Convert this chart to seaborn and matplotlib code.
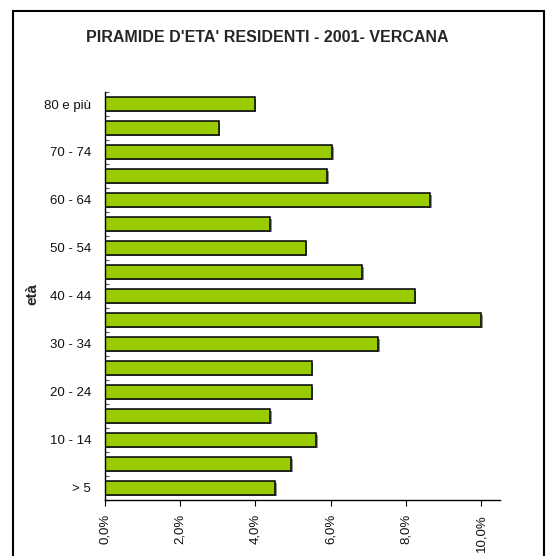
import matplotlib
matplotlib.use("Agg")
import matplotlib.pyplot as plt
import matplotlib.patheffects as pe
from matplotlib.patches import Rectangle
from matplotlib.ticker import FuncFormatter, FixedLocator
import seaborn as sns
import pandas as pd
import numpy as np

categories = ["80 e più", "75 - 79", "70 - 74", "65 - 69", "60 - 64", "55 - 59",
              "50 - 54", "45 - 49", "40 - 44", "35 - 39", "30 - 34", "25 - 29",
              "20 - 24", "15 - 19", "10 - 14", "5 - 9", "> 5"]
values = [3.98, 3.02, 6.04, 5.90, 8.64, 4.39, 5.33, 6.84, 8.23, 10.0, 7.26,
          5.49, 5.49, 4.39, 5.62, 4.94, 4.53]
shown_labels = ["80 e più", "70 - 74", "60 - 64", "50 - 54", "40 - 44",
                "30 - 34", "20 - 24", "10 - 14", "> 5"]
x_ticks = [0, 2, 4, 6, 8, 10]

title = "PIRAMIDE D'ETA' RESIDENTI - 2001- VERCANA"

sns.set_theme(style="white")
plt.rcParams['font.family'] = ['Liberation Sans', 'DejaVu Sans']

W, H = 546, 556
fig = plt.figure(figsize=(W / 100, H / 100), dpi=100)
ax = fig.add_axes([105 / W, 1 - 500 / H, (500 - 105) / W, (500 - 92) / H])

df = pd.DataFrame({"eta": categories, "perc": values})
sns.barplot(data=df, y="eta", x="perc", orient="h", color="#99CC00",
            saturation=1, width=0.55, edgecolor="black", linewidth=1.1, ax=ax)
for p in ax.patches:
    p.set_path_effects([pe.SimplePatchShadow(offset=(1.2, -1.2), shadow_rgbFace="#777777", alpha=0.8),
                        pe.Normal()])

ax.set_xlim(0, 10.5)
ax.set_ylim(len(categories) - 0.5, -0.5)

ax.xaxis.set_major_locator(FixedLocator(x_ticks))
ax.xaxis.set_major_formatter(FuncFormatter(lambda v, p: f"{v:.1f}%".replace(".", ",")))
for lab in ax.get_xticklabels():
    lab.set_rotation(90)
ax.tick_params(axis="x", which="major", bottom=True, length=4, width=0.8, color="black",
               labelsize=9.5, pad=6, labelcolor="#111111")

ax.set_yticks(range(len(categories)))
ax.set_yticklabels([c if c in shown_labels else "" for c in categories])
ax.tick_params(axis="y", which="major", left=False, length=0, labelsize=9.5, pad=10,
               labelcolor="#111111")
ax.yaxis.set_minor_locator(FixedLocator(np.arange(-0.5, len(categories), 1.0)))
ax.tick_params(axis="y", which="minor", left=True, direction="in", length=3,
               width=0.8, color="#555555")

for s in ["top", "right"]:
    ax.spines[s].set_visible(False)
for s in ["left", "bottom"]:
    ax.spines[s].set_color("black")
    ax.spines[s].set_linewidth(1.0)

ax.set_xlabel("")
ax.set_ylabel("età", fontsize=11, fontweight="bold")
ax.yaxis.set_label_coords(-0.165, 0.505)

fig.text(267 / W, 1 - 37.5 / H, title, ha="center", va="center",
         fontsize=11.5, fontweight="bold")

fig.patches.append(Rectangle((13 / W, -0.05), (544 - 13) / W, (1 - 11 / H) + 0.05,
                             transform=fig.transFigure, fill=False,
                             edgecolor="black", linewidth=1.5))

fig.savefig("out.png", dpi=100)
